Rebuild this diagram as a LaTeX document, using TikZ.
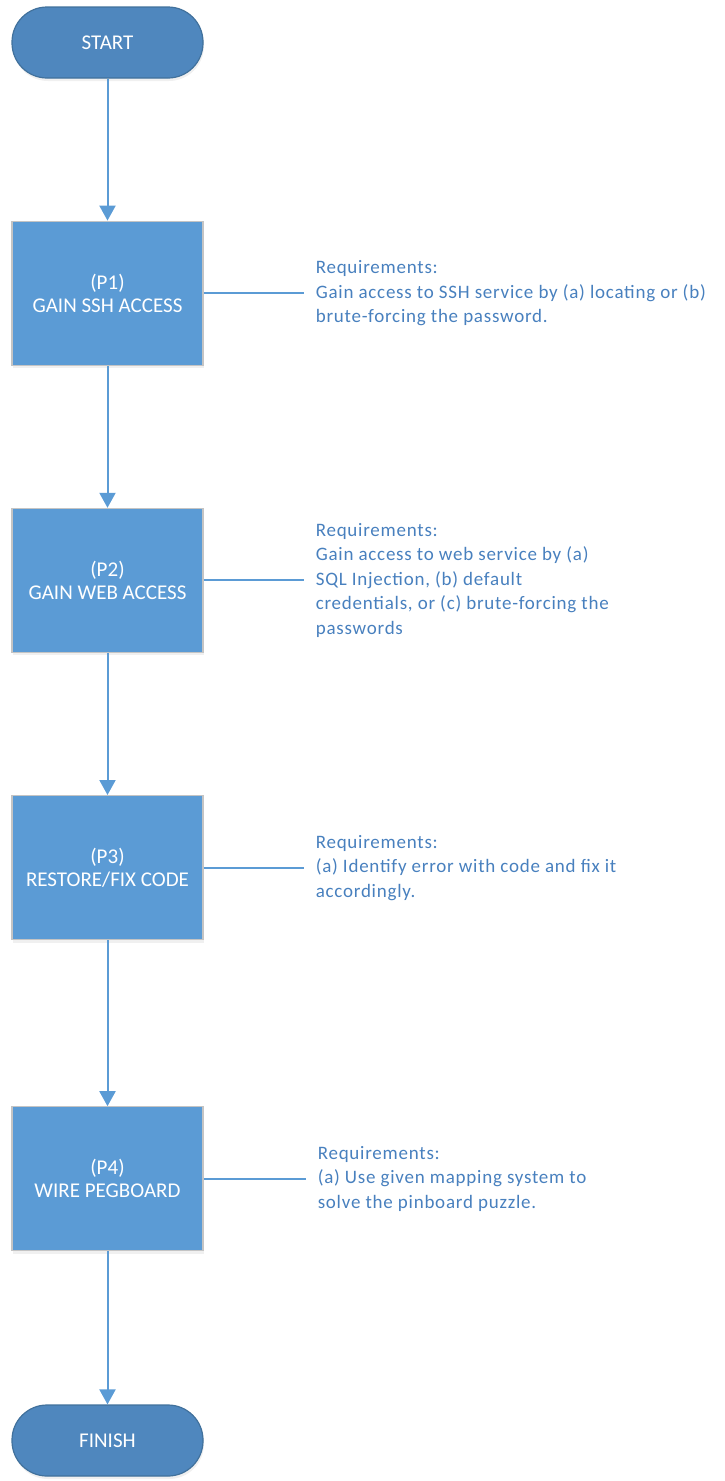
\documentclass[tikz,border=0pt]{standalone}
\usepackage{fontspec}
\setmainfont{Carlito}
\newfontfamily\notefont{Carlito}[LetterSpace=4]
\usetikzlibrary{arrows.meta,positioning,shadows}

\definecolor{termfill}{RGB}{79,135,190}
\definecolor{termedge}{RGB}{65,113,156}
\definecolor{procfill}{RGB}{91,155,213}
\definecolor{procedge}{RGB}{196,196,196}
\definecolor{flowblue}{RGB}{91,155,213}
\definecolor{notetext}{RGB}{72,128,190}

\begin{document}
\begin{tikzpicture}[
  x=1pt, y=-1pt,
  node distance=142pt,
  terminal/.style={rectangle, rounded corners=35pt, draw=termedge, fill=termfill, line width=1.2pt, minimum width=191pt, minimum height=71pt, text=white, font=\fontsize{21}{23}\selectfont, drop shadow={shadow xshift=1pt, shadow yshift=-3pt, opacity=0.12}},
  process/.style={rectangle, draw=procedge, fill=procfill, line width=1.2pt, minimum width=191pt, minimum height=144pt, align=center, text=white, font=\fontsize{21}{23}\selectfont, drop shadow={shadow xshift=1pt, shadow yshift=-3pt, opacity=0.12}},
  note/.style={rectangle, align=left, inner xsep=12pt, inner ysep=0pt, text=notetext, font=\notefont\fontsize{19}{24.5}\selectfont},
  flow/.style={-{Triangle[length=15pt, width=16pt]}, line width=2pt, draw=flowblue},
  link/.style={line width=2pt, draw=flowblue},
]
  \useasboundingbox (0,0) rectangle (724,1481);

  \node[terminal] (start) at (107.5,42.5) {START};
  \node[process, below=of start] (p1) {(P1)\\GAIN SSH ACCESS};
  \node[process, below=of p1] (p2) {(P2)\\GAIN WEB ACCESS};
  \node[process, below=of p2] (p3) {(P3)\\RESTORE/FIX CODE};
  \node[process, below=166pt of p3] (p4) {(P4)\\WIRE PEGBOARD};
  \node[terminal, below=153pt of p4] (finish) {FINISH};

  % requirement notes
  \node[note, right=100pt of p1] (r1) {Requirements:\\Gain access to SSH service by (a) locating or (b)\\brute-forcing the password.};
  \node[note, right=100pt of p2] (r2) {Requirements:\\Gain access to web service by (a)\\SQL Injection, (b) default\\credentials, or (c) brute-forcing the\\passwords};
  \node[note, right=100pt of p3] (r3) {Requirements:\\(a) Identify error with code and fix it\\accordingly.};
  \node[note, right=102pt of p4] (r4) {Requirements:\\(a) Use given mapping system to\\solve the pinboard puzzle.};

  \draw[flow] (start) -- (p1);
  \draw[flow] (p1) -- (p2);
  \draw[flow] (p2) -- (p3);
  \draw[flow] (p3) -- (p4);
  \draw[flow] (p4) -- (finish);

  \draw[link] (p1) -- (r1);
  \draw[link] (p2) -- (r2);
  \draw[link] (p3) -- (r3);
  \draw[link] (p4) -- (r4);
\end{tikzpicture}
\end{document}
